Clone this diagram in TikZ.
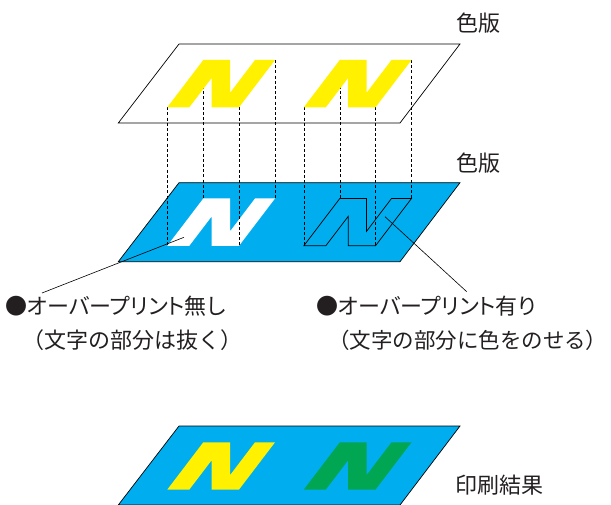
\documentclass[tikz,border=0pt]{standalone}
\usepackage{fontspec}
\setmainfont{Noto Sans CJK JP}
\newfontfamily\jpkern[RawFeature=+palt]{Noto Sans CJK JP}
\definecolor{cyanP}{RGB}{0,174,239}
\definecolor{yellowP}{RGB}{255,241,0}
\definecolor{greenP}{RGB}{0,166,81}
\definecolor{inkP}{RGB}{35,31,32}
\begin{document}
\begin{tikzpicture}[x=1pt,y=-1pt,
  plane/.style={draw=black,line width=0.7pt},
  guide/.style={draw=black,line width=0.6pt,dash pattern=on 3pt off 2.2pt},
  leader/.style={draw=black,line width=0.6pt},
  lbl/.style={inner sep=0pt,anchor=base west,text=inkP,font=\fontsize{22}{26}\selectfont},
  Nletter/.pic={\path[pic actions] (0,47.3) -- (36,0) -- (62.7,0) -- (62.7,32.9) -- (87.7,0) -- (107.7,0) -- (71.7,47.3) -- (44.4,47.3) -- (44.4,17.9) -- (22,47.3) -- cycle;}
]
\useasboundingbox (0,0) rectangle (611,505);
% planes
\path[plane,fill=cyanP] (179,182.7) -- (460,182.7) -- (400,261.7) -- (118.3,261.7) -- cycle;
\pic[fill=white] at (167.3,198.5) {Nletter};
\pic[draw=black,line width=0.7pt] at (303.8,198.5) {Nletter};
\path[plane,fill=white] (179,44) -- (460,44) -- (400,123) -- (118.3,123) -- cycle;
% guides
\foreach \dx in {0,136.5}{
  \foreach \px/\py in {0/47.3,36/0,71.7/47.3,107.7/0}{
    \coordinate (ga) at (167.3+\dx+\px,60+\py);
    \coordinate (gb) at (167.3+\dx+\px,198.5+\py);
    \draw[guide] (ga) -- (gb);
  }
}
\pic[fill=yellowP] at (167.3,60) {Nletter};
\pic[fill=yellowP] at (303.8,60) {Nletter};
% result plane
\path[plane,fill=cyanP] (179,426) -- (460,426) -- (400,505) -- (118.3,505) -- cycle;
\pic[fill=yellowP] at (167.3,442.3) {Nletter};
\pic[fill=greenP] at (303.8,442.3) {Nletter};
% leaders
\coordinate (la) at (184,237.3);
\coordinate (lb) at (42,293);
\coordinate (ra) at (385,216.7);
\coordinate (rb) at (466.7,291.7);
\draw[leader] (la) -- (lb);
\draw[leader] (ra) -- (rb);
% labels
\node[lbl] (t1) at (456,31.5) {色版};
\node[lbl] (t2) at (456,171.5) {色版};
\node[lbl] (t3) at (455,493.5) {印刷結果};
\node[lbl,font=\fontsize{22}{26}\jpkern] (l1) at (5,315) {●オーバープリント無し};
\node[lbl] (l2) at (22,348.5) {（文字の部分は抜く）};
\node[lbl,font=\fontsize{22}{26}\jpkern] (r1) at (316,315) {●オーバープリント有り};
\node[lbl,font=\fontsize{21.5}{26}\selectfont] (r2) at (328,348.5) {（文字の部分に色をのせる{\jpkern ）}};
\end{tikzpicture}
\end{document}
